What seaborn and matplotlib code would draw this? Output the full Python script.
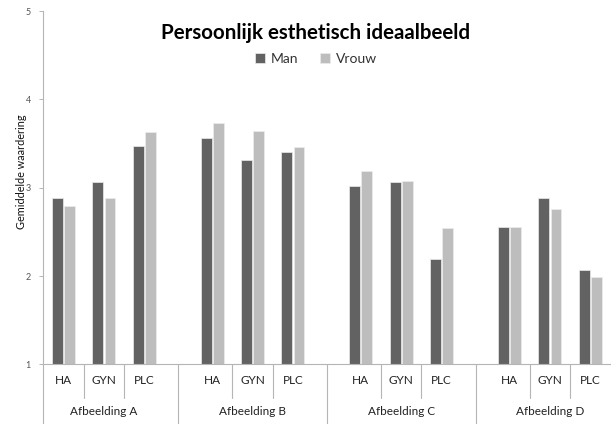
import matplotlib
matplotlib.use("Agg")
import matplotlib.pyplot as plt
import matplotlib.transforms as mtransforms
import numpy as np
import pandas as pd
import seaborn as sns

# Mean scores per picture and procedure, split by sex
groups = ["Afbeelding A", "Afbeelding B", "Afbeelding C", "Afbeelding D"]
subcats = ["HA", "GYN", "PLC"]
man = [2.88, 3.06, 3.47,
       3.56, 3.31, 3.40,
       3.02, 3.06, 2.19,
       2.55, 2.88, 2.07]
vrouw = [2.79, 2.88, 3.63,
         3.73, 3.64, 3.46,
         3.19, 3.08, 2.54,
         2.56, 2.76, 1.99]
series = ["Man", "Vrouw"]
yticks = [1, 2, 3, 4, 5]

title = "Persoonlijk esthetisch ideaalbeeld"
ylabel = "Gemiddelde waardering"

sns.set_theme(style="white")
plt.rcParams["font.family"] = ["Lato", "DejaVu Sans"]

# Layout of the category axis: groups of three with an extra gap between groups
group_stride = 3.68

rows = []
pos = []
for gi, g in enumerate(groups):
    for si, s in enumerate(subcats):
        k = gi * len(subcats) + si
        x = gi * group_stride + si
        pos.append(x)
        rows.append({"x": x, "group": g, "sub": s, "sex": series[0], "score": man[k]})
        rows.append({"x": x, "group": g, "sub": s, "sex": series[1], "score": vrouw[k]})
df = pd.DataFrame(rows)

W, H, DPI = 611, 424, 100
fig = plt.figure(figsize=(W / DPI, H / DPI), dpi=DPI)
ax = fig.add_axes([43.3 / W, (H - 364.3) / H, (610.5 - 43.3) / W, (364.3 - 11.1) / H])

palette = {series[0]: "#626262", series[1]: "#bdbdbd"}
sns.barplot(data=df, x="x", y="score", hue="sex", hue_order=series,
            palette=palette, native_scale=True, width=0.6, gap=0.1,
            edgecolor="#ececec", linewidth=0.5, saturation=1,
            errorbar=None, ax=ax)

ax.set_ylim(1, 5)
ax.set_xlim(pos[0] - 0.5, pos[-1] + 0.5)
ax.set_yticks(yticks)
ax.set_yticklabels([str(t) for t in yticks], fontsize=6.5, color="#555555")
ax.tick_params(axis="y", which="major", direction="out", length=3, width=0.6,
               color="#aaaaaa", pad=6, left=True)
ax.set_xticks([])
ax.set_xlabel("")
ax.set_ylabel(ylabel, fontsize=7.8, color="#111111")
ax.yaxis.set_label_coords(-0.029, 0.544)

for side in ["top", "right"]:
    ax.spines[side].set_visible(False)
for side in ["left", "bottom"]:
    ax.spines[side].set_color("#b5b5b5")
    ax.spines[side].set_linewidth(0.8)

# Two-level category axis drawn below the plot area
trans = mtransforms.blended_transform_factory(ax.transData, ax.transAxes)
line_kw = dict(color="#b5b5b5", lw=0.8, transform=trans, clip_on=False)
sub_bottom = -(398 - 364.3) / 353.2
grp_bottom = -(424 - 364.3) / 353.2
for gi, g in enumerate(groups):
    xs = pos[gi * 3:(gi + 1) * 3]
    for s, x in zip(subcats, xs):
        ax.text(x, -0.046, s, transform=trans, ha="center", va="center",
                fontsize=8.5, color="#222222")
    for a, b in zip(xs[:-1], xs[1:]):
        m = (a + b) / 2
        ax.plot([m, m], [0, sub_bottom], **line_kw)
    ax.text(xs[1], -0.135, g, transform=trans, ha="center", va="center",
            fontsize=8.5, color="#222222")
    if gi < len(groups) - 1:
        m = (xs[-1] + gi * group_stride + group_stride) / 2
        ax.plot([m, m], [0, grp_bottom], **line_kw)
ax.plot([pos[0] - 0.5, pos[0] - 0.5], [0, grp_bottom], **line_kw)

fig.text(316 / W, 1 - 33 / H, title, ha="center", va="center",
         fontsize=14.8, fontweight="bold", color="#000000")

handles, labels = ax.get_legend_handles_labels()
ax.legend(handles, labels, loc="center", bbox_to_anchor=(316 / W, 1 - 59 / H),
          bbox_transform=fig.transFigure, ncol=2, frameon=False, fontsize=10,
          handlelength=0.7, handleheight=0.7, handletextpad=0.4,
          columnspacing=1.6, labelcolor="#333333")

fig.savefig("out.png", dpi=DPI, facecolor="white")
